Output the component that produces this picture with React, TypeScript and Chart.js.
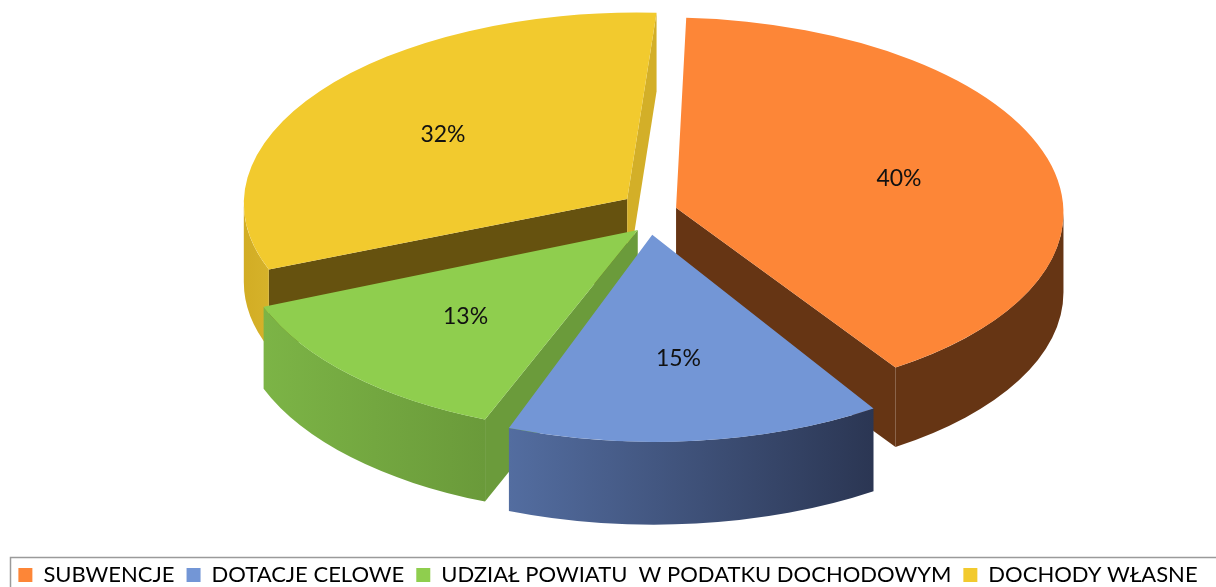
import React, { useEffect, useRef } from 'react';
import { Chart, registerables } from 'chart.js';

Chart.register(...registerables);

// ---- data ----
const categories = [
  'SUBWENCJE',
  'DOTACJE CELOWE',
  'UDZIAŁ POWIATU  W PODATKU DOCHODOWYM',
  'DOCHODY WŁASNE',
];
const shares = [40, 15, 13, 32];

// ---- styles ----
const topColors = ['#FD8637', '#7396D6', '#8FCE4E', '#F2CA2E'];
const wallLeftColors = ['#663514', '#536DA0', '#7CB446', '#D2AD24'];
const wallRightColors = ['#663514', '#2B3653', '#6A9A3A', '#D6B22A'];
const startFaceColors = ['#663514', '#3A4A70', '#6B9B3B', '#66520F'];
const endFaceColors = ['#663514', '#3A4A70', '#6B9B3B', '#D3AF28'];

// pie view geometry (screen pixels)
const CX = 650.6;
const CY = 214.5;
const RX = 390;
const RY = 193;
const PERSP = 0.054;
const EX = 25;
const EY = 25;
const DEPTH = 80;
const LABEL_R = 0.6;

const pie3d = {
  id: 'pie3d',
  beforeDatasetDraw(chart: any, args: any) {
    const els = chart.getDatasetMeta(args.index).data;
    if (!els.length) return false;
    const ctx: CanvasRenderingContext2D = chart.ctx;
    const x0 = els[0].x;
    const y0 = els[0].y;
    const R = els[0].outerRadius;

    const slices = els
      .map((el: any, i: number) => {
        const a1 = el.startAngle;
        const a2 = el.endAngle;
        const m = (a1 + a2) / 2;
        const h = (a2 - a1) / 2;
        const rc = (2 * Math.sin(h)) / (3 * h);
        const u0 = rc * Math.cos(m);
        const v0 = rc * Math.sin(m);
        const w0 = 1 - PERSP * v0;
        const J11 = RX / w0;
        const J12 = (RX * u0 * PERSP) / (w0 * w0);
        const J22 = RY / (w0 * w0);
        const Tx = CX + EX * Math.cos(m) + (RX * u0) / w0 - (J11 * u0 + J12 * v0);
        const Ty = CY + EY * Math.sin(m) + (RY * v0) / w0 - J22 * v0;
        const a = J11 / R;
        const c = J12 / R;
        const d = J22 / R;
        return {
          el,
          i,
          a1,
          a2,
          m,
          a,
          c,
          d,
          e: Tx - a * x0 - c * y0,
          f: Ty - d * y0,
          depth: DEPTH / w0,
          Ty,
        };
      })
      .sort((p: any, q: any) => p.Ty - q.Ty);

    for (const s of slices) {
      const setTop = () => ctx.setTransform(s.a, 0, s.c, s.d, s.e, s.f);
      const setBot = () => ctx.setTransform(s.a, 0, s.c, s.d, s.e, s.f + s.depth);
      const sp = (t: number) => {
        const px = x0 + R * Math.cos(t);
        const py = y0 + R * Math.sin(t);
        return [s.a * px + s.c * py + s.e, s.d * py + s.f];
      };
      const dirScreen = (t: number) => [
        s.a * Math.cos(t) + s.c * Math.sin(t),
        s.d * Math.sin(t),
      ];
      const faceVisible = (alpha: number) => {
        const w = dirScreen(alpha);
        const ii = dirScreen(s.m);
        if (Math.abs(w[0]) < 1e-9) return false;
        const cross = w[0] * ii[1] - w[1] * ii[0];
        return cross * Math.sign(w[0]) < 0;
      };
      ctx.save();
      const face = (alpha: number, color: string) => {
        ctx.beginPath();
        setTop();
        ctx.moveTo(x0, y0);
        ctx.lineTo(x0 + R * Math.cos(alpha), y0 + R * Math.sin(alpha));
        setBot();
        ctx.lineTo(x0 + R * Math.cos(alpha), y0 + R * Math.sin(alpha));
        ctx.lineTo(x0, y0);
        ctx.closePath();
        ctx.setTransform(1, 0, 0, 1, 0, 0);
        ctx.fillStyle = color;
        ctx.fill();
      };
      if (faceVisible(s.a1)) face(s.a1, startFaceColors[s.i]);
      if (faceVisible(s.a2)) face(s.a2, endFaceColors[s.i]);

      const t0 = Math.atan2(s.c, s.a);
      const t1 = Math.max(s.a1, t0);
      const t2 = Math.min(s.a2, t0 + Math.PI);
      if (t2 > t1) {
        ctx.beginPath();
        setTop();
        ctx.arc(x0, y0, R, t1, t2, false);
        setBot();
        ctx.arc(x0, y0, R, t2, t1, true);
        ctx.closePath();
        ctx.setTransform(1, 0, 0, 1, 0, 0);
        let xl = Infinity;
        let xr = -Infinity;
        for (let k = 0; k <= 24; k++) {
          const p = sp(t1 + ((t2 - t1) * k) / 24);
          xl = Math.min(xl, p[0]);
          xr = Math.max(xr, p[0]);
        }
        const g = ctx.createLinearGradient(xl, 0, xr, 0);
        g.addColorStop(0, wallLeftColors[s.i]);
        g.addColorStop(1, wallRightColors[s.i]);
        ctx.fillStyle = g;
        ctx.fill();
      }
      ctx.restore();

      // top face drawn by the library's arc element
      ctx.save();
      setTop();
      s.el.draw(ctx);
      ctx.restore();
    }

    // percentage labels
    const total = shares.reduce((p, q) => p + q, 0);
    ctx.save();
    ctx.setTransform(1, 0, 0, 1, 0, 0);
    ctx.font = '23px Lato';
    ctx.fillStyle = '#111';
    ctx.textAlign = 'center';
    ctx.textBaseline = 'middle';
    for (const s of slices) {
      const pct = Math.round((shares[s.i] / total) * 100);
      const px = x0 + LABEL_R * R * Math.cos(s.m);
      const py = y0 + LABEL_R * R * Math.sin(s.m);
      ctx.fillText(pct + '%', s.a * px + s.c * py + s.e, s.d * py + s.f);
    }
    ctx.restore();
    return false;
  },
};

const legendFrame = {
  id: 'legendFrame',
  afterDraw(chart: any) {
    const ctx: CanvasRenderingContext2D = chart.ctx;
    ctx.save();
    ctx.strokeStyle = '#9A9A9A';
    ctx.lineWidth = 1.5;
    ctx.strokeRect(10.5, 557.5, 1300, 100);
    ctx.restore();
  },
};

export default function App() {
  const ref = useRef<HTMLCanvasElement | null>(null);
  useEffect(() => {
    if (!ref.current) return;
    const chart = new Chart(ref.current, {
      type: 'pie',
      data: {
        labels: categories,
        datasets: [
          {
            data: shares,
            backgroundColor: topColors,
            borderWidth: 0,
            offset: 0,
          },
        ],
      },
      options: {
        animation: false,
        responsive: true,
        maintainAspectRatio: false,
        events: [],
        rotation: 3,
        layout: { padding: { left: 0, right: 0, top: 0, bottom: -9 } },
        plugins: {
          tooltip: { enabled: false },
          legend: {
            position: 'bottom',
            labels: {
              font: { family: 'Lato', size: 22 },
              color: '#000',
              boxWidth: 14,
              boxHeight: 14,
              padding: 12,
            },
          },
        },
      },
      plugins: [pie3d, legendFrame],
    });
    return () => chart.destroy();
  }, []);
  return (
    <div
      style={{
        position: 'fixed',
        left: 0,
        top: 0,
        width: 1216,
        height: 587,
        background: '#fff',
      }}
    >
      <canvas ref={ref} />
    </div>
  );
}
